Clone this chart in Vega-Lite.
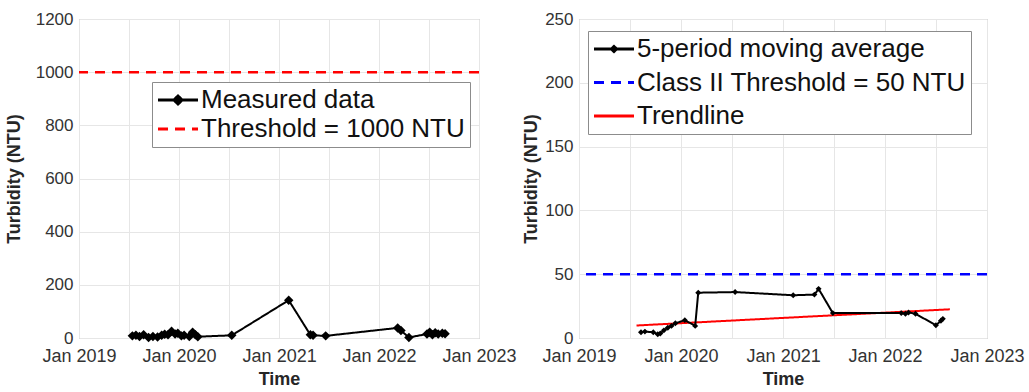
{
  "$schema": "https://vega.github.io/schema/vega-lite/v6.json",
  "padding": {"left": 4, "top": 9, "right": 5, "bottom": 5},
  "background": "white",
  "spacing": 5,
  "resolve": {
    "scale": {"color": "independent", "strokeDash": "independent", "y": "independent", "x": "independent"},
    "legend": {"color": "independent", "strokeDash": "independent"}
  },
  "config": {
    "font": "Liberation Sans",
    "view": {"stroke": "#a6a6a6", "strokeWidth": 1},
    "axis": {
      "labelFontSize": 17, "labelColor": "#333333", "titleFontSize": 18, "titleFontWeight": "bold",
      "titleColor": "#262626", "gridColor": "#e6e6e6", "domain": false, "ticks": false,
      "labelPadding": 6, "labelFlush": false, "labelOverlap": false, "titlePadding": 8
    },
    "axisX": {"labelFontSize": 18, "labelPadding": 9, "titlePadding": 5},
    "legend": {
      "orient": "none", "fillColor": "white", "strokeColor": "#8c8c8c", "padding": 5,
      "labelFontSize": 26, "labelColor": "#111111", "symbolType": "stroke", "symbolSize": 400,
      "symbolOffset": 8, "symbolStrokeWidth": 3, "labelOffset": 10, "title": null, "labelLimit": 0
    }
  },
  "datasets": {
    "raw": [
      {"date": "2019-07-15", "value": 8, "series": "Measured data"},
      {"date": "2019-07-28", "value": 10, "series": "Measured data"},
      {"date": "2019-08-10", "value": 6, "series": "Measured data"},
      {"date": "2019-08-25", "value": 12, "series": "Measured data"},
      {"date": "2019-09-12", "value": 2, "series": "Measured data"},
      {"date": "2019-09-28", "value": 6, "series": "Measured data"},
      {"date": "2019-10-15", "value": 4, "series": "Measured data"},
      {"date": "2019-10-30", "value": 10, "series": "Measured data"},
      {"date": "2019-11-10", "value": 14, "series": "Measured data"},
      {"date": "2019-11-22", "value": 12, "series": "Measured data"},
      {"date": "2019-12-05", "value": 25, "series": "Measured data"},
      {"date": "2019-12-18", "value": 15, "series": "Measured data"},
      {"date": "2019-12-28", "value": 18, "series": "Measured data"},
      {"date": "2020-01-10", "value": 8, "series": "Measured data"},
      {"date": "2020-01-20", "value": 10, "series": "Measured data"},
      {"date": "2020-02-08", "value": 6, "series": "Measured data"},
      {"date": "2020-02-20", "value": 22, "series": "Measured data"},
      {"date": "2020-03-01", "value": 12, "series": "Measured data"},
      {"date": "2020-03-10", "value": 5, "series": "Measured data"},
      {"date": "2020-07-12", "value": 10, "series": "Measured data"},
      {"date": "2021-02-05", "value": 142, "series": "Measured data"},
      {"date": "2021-04-25", "value": 12, "series": "Measured data"},
      {"date": "2021-05-05", "value": 10, "series": "Measured data"},
      {"date": "2021-06-20", "value": 8, "series": "Measured data"},
      {"date": "2022-03-10", "value": 38, "series": "Measured data"},
      {"date": "2022-03-22", "value": 28, "series": "Measured data"},
      {"date": "2022-04-20", "value": 2, "series": "Measured data"},
      {"date": "2022-06-25", "value": 15, "series": "Measured data"},
      {"date": "2022-07-05", "value": 22, "series": "Measured data"},
      {"date": "2022-07-15", "value": 12, "series": "Measured data"},
      {"date": "2022-07-25", "value": 20, "series": "Measured data"},
      {"date": "2022-08-05", "value": 15, "series": "Measured data"},
      {"date": "2022-08-20", "value": 18, "series": "Measured data"},
      {"date": "2022-08-30", "value": 16, "series": "Measured data"}
    ],
    "thr1": [{"value": 1000, "series": "Threshold = 1000 NTU"}],
    "ma": [
      {"date": "2019-08-11", "value": 4.5, "series": "5-period moving average"},
      {"date": "2019-08-25", "value": 5, "series": "5-period moving average"},
      {"date": "2019-09-24", "value": 4.5, "series": "5-period moving average"},
      {"date": "2019-10-10", "value": 3, "series": "5-period moving average"},
      {"date": "2019-10-19", "value": 3.5, "series": "5-period moving average"},
      {"date": "2019-11-01", "value": 6, "series": "5-period moving average"},
      {"date": "2019-11-15", "value": 8, "series": "5-period moving average"},
      {"date": "2019-11-28", "value": 9.5, "series": "5-period moving average"},
      {"date": "2019-12-12", "value": 11.5, "series": "5-period moving average"},
      {"date": "2020-01-15", "value": 14, "series": "5-period moving average"},
      {"date": "2020-02-21", "value": 9.5, "series": "5-period moving average"},
      {"date": "2020-03-03", "value": 35.5, "series": "5-period moving average"},
      {"date": "2020-07-13", "value": 36, "series": "5-period moving average"},
      {"date": "2021-02-06", "value": 33.5, "series": "5-period moving average"},
      {"date": "2021-04-23", "value": 34, "series": "5-period moving average"},
      {"date": "2021-05-08", "value": 38.5, "series": "5-period moving average"},
      {"date": "2021-06-28", "value": 19.5, "series": "5-period moving average"},
      {"date": "2022-02-28", "value": 19.5, "series": "5-period moving average"},
      {"date": "2022-03-15", "value": 19, "series": "5-period moving average"},
      {"date": "2022-03-26", "value": 20, "series": "5-period moving average"},
      {"date": "2022-04-20", "value": 19, "series": "5-period moving average"},
      {"date": "2022-07-02", "value": 10, "series": "5-period moving average"},
      {"date": "2022-07-20", "value": 13.5, "series": "5-period moving average"},
      {"date": "2022-07-27", "value": 15, "series": "5-period moving average"}
    ],
    "thr2": [{"value": 50, "series": "Class II Threshold = 50 NTU"}],
    "trend": [
      {"date": "2019-07-26", "value": 9.8, "series": "Trendline"},
      {"date": "2022-08-21", "value": 22.5, "series": "Trendline"}
    ]
  },
  "hconcat": [
    {
      "width": 400,
      "height": 319,
      "layer": [
        {
          "data": {"name": "thr1"},
          "mark": {"type": "rule", "strokeWidth": 2.5},
          "encoding": {
            "y": {"field": "value", "type": "quantitative", "scale": {"domain": [0, 1200], "nice": false}, "axis": {"values": [0, 200, 400, 600, 800, 1000, 1200], "format": "d", "title": "Turbidity (NTU)", "titlePadding": 12}},
            "color": {"field": "series", "type": "nominal", "scale": {"domain": ["Measured data", "Threshold = 1000 NTU"], "range": ["black", "red"]},
              "legend": {"legendX": 73, "legendY": 63, "rowPadding": 3,
                "encode": {"symbols": {"update": {"shape": {"signal": "datum.value == 'Measured data' ? 'M-2,0H2M0,-0.4L0.4,0L0,0.4L-0.4,0Z' : 'M-2,0H2'"}, "fill": {"value": "black"}}}}}},
            "strokeDash": {"field": "series", "type": "nominal", "scale": {"domain": ["Measured data", "Threshold = 1000 NTU"], "range": [[1, 0], [10, 7]]}}
          }
        },
        {
          "data": {"name": "raw"},
          "mark": {"type": "line", "strokeWidth": 2, "point": {"shape": "diamond", "size": 90, "filled": true}},
          "encoding": {
            "x": {"field": "date", "type": "temporal",
              "scale": {"type": "utc", "domain": [{"year": 2019, "month": 1, "date": 1, "utc": true}, {"year": 2023, "month": 1, "date": 1, "utc": true}]},
              "axis": {"title": "Time",
                "values": [{"year": 2019, "month": 1, "date": 1, "utc": true}, {"year": 2019, "month": 7, "date": 1, "utc": true}, {"year": 2020, "month": 1, "date": 1, "utc": true}, {"year": 2020, "month": 7, "date": 1, "utc": true}, {"year": 2021, "month": 1, "date": 1, "utc": true}, {"year": 2021, "month": 7, "date": 1, "utc": true}, {"year": 2022, "month": 1, "date": 1, "utc": true}, {"year": 2022, "month": 7, "date": 1, "utc": true}, {"year": 2023, "month": 1, "date": 1, "utc": true}],
                "labelExpr": "utcmonth(datum.value) == 0 ? utcFormat(datum.value, '%b %Y') : ''"}},
            "y": {"field": "value", "type": "quantitative"},
            "color": {"field": "series", "type": "nominal"},
            "strokeDash": {"field": "series", "type": "nominal"}
          }
        }
      ]
    },
    {
      "width": 408,
      "height": 319,
      "layer": [
        {
          "data": {"name": "thr2"},
          "mark": {"type": "rule", "strokeWidth": 2.5},
          "encoding": {
            "y": {"field": "value", "type": "quantitative", "scale": {"domain": [0, 250], "nice": false}, "axis": {"values": [0, 50, 100, 150, 200, 250], "title": "Turbidity (NTU)", "titlePadding": 4}},
            "color": {"field": "series", "type": "nominal", "scale": {"domain": ["5-period moving average", "Class II Threshold = 50 NTU", "Trendline"], "range": ["black", "blue", "red"]},
              "legend": {"legendX": 9, "legendY": 12, "rowPadding": 7.5,
                "encode": {"symbols": {"update": {"shape": {"signal": "datum.value == '5-period moving average' ? 'M-2,0H2M0,-0.25L0.25,0L0,0.25L-0.25,0Z' : 'M-2,0H2'"}, "fill": {"value": "black"}}}}}},
            "strokeDash": {"field": "series", "type": "nominal", "scale": {"domain": ["5-period moving average", "Class II Threshold = 50 NTU", "Trendline"], "range": [[1, 0], [10, 7], [1, 0]]}}
          }
        },
        {
          "data": {"name": "trend"},
          "mark": {"type": "line", "strokeWidth": 2},
          "encoding": {
            "x": {"field": "date", "type": "temporal"},
            "y": {"field": "value", "type": "quantitative"},
            "color": {"field": "series", "type": "nominal"},
            "strokeDash": {"field": "series", "type": "nominal"}
          }
        },
        {
          "data": {"name": "ma"},
          "mark": {"type": "line", "strokeWidth": 2, "point": {"shape": "diamond", "size": 35, "filled": true}},
          "encoding": {
            "x": {"field": "date", "type": "temporal",
              "scale": {"type": "utc", "domain": [{"year": 2019, "month": 1, "date": 1, "utc": true}, {"year": 2023, "month": 1, "date": 1, "utc": true}]},
              "axis": {"title": "Time",
                "values": [{"year": 2019, "month": 1, "date": 1, "utc": true}, {"year": 2019, "month": 7, "date": 1, "utc": true}, {"year": 2020, "month": 1, "date": 1, "utc": true}, {"year": 2020, "month": 7, "date": 1, "utc": true}, {"year": 2021, "month": 1, "date": 1, "utc": true}, {"year": 2021, "month": 7, "date": 1, "utc": true}, {"year": 2022, "month": 1, "date": 1, "utc": true}, {"year": 2022, "month": 7, "date": 1, "utc": true}, {"year": 2023, "month": 1, "date": 1, "utc": true}],
                "labelExpr": "utcmonth(datum.value) == 0 ? utcFormat(datum.value, '%b %Y') : ''"}},
            "y": {"field": "value", "type": "quantitative"},
            "color": {"field": "series", "type": "nominal"},
            "strokeDash": {"field": "series", "type": "nominal"}
          }
        }
      ]
    }
  ]
}
